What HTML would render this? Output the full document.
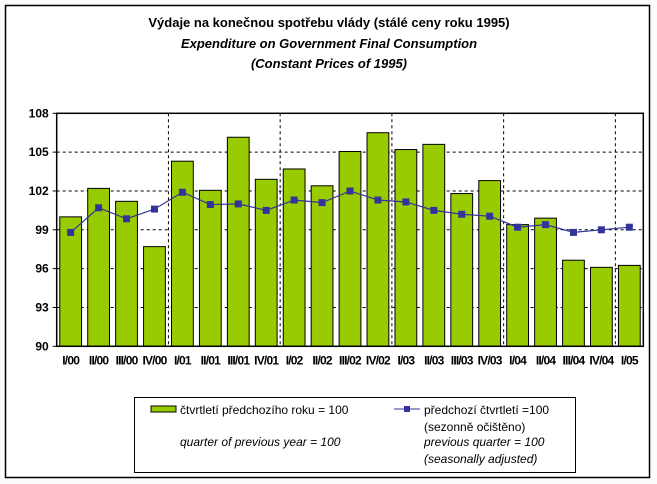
<!DOCTYPE html>
<html><head><meta charset="utf-8"><style>
body{margin:0;background:#fcfbf9;}
svg{display:block;font-family:"Liberation Sans",Arial,sans-serif;}
</style></head><body>
<svg id="c" width="657" height="484">
<rect x="5.5" y="5.5" width="644" height="472" fill="#fff" stroke="#000" stroke-width="1.5"/>
<text x="329" y="27" text-anchor="middle" font-size="13" font-weight="bold">Výdaje na konečnou spotřebu vlády (stálé ceny roku 1995)</text>
<text x="329" y="48" text-anchor="middle" font-size="13" font-weight="bold" font-style="italic">Expenditure on Government Final Consumption</text>
<text x="329" y="68" text-anchor="middle" font-size="13" font-weight="bold" font-style="italic">(Constant Prices of 1995)</text>
<g id="plot"></g>
<g>
<rect x="134.5" y="397.5" width="441" height="75" fill="#fff" stroke="#000"/>
<rect x="151" y="406" width="25" height="6" fill="#99cc00" stroke="#000"/>
<text x="180" y="414" font-size="12">čtvrtletí předchozího roku = 100</text>
<text x="180" y="446" font-size="12" font-style="italic">quarter of previous year = 100</text>
<line x1="394" y1="409" x2="420" y2="409" stroke="#333399"/>
<rect x="404" y="406" width="6" height="6" fill="#333399"/>
<text x="424" y="414" font-size="12">předchozí čtvrtletí =100</text>
<text x="424" y="431" font-size="12">(sezonně očištěno)</text>
<text x="424" y="446" font-size="12" font-style="italic">previous quarter = 100</text>
<text x="424" y="463" font-size="12" font-style="italic">(seasonally adjusted)</text>
</g>
</svg>
<script>
const categories=["I/00","II/00","III/00","IV/00","I/01","II/01","III/01","IV/01","I/02","II/02","III/02","IV/02","I/03","II/03","III/03","IV/03","I/04","II/04","III/04","IV/04","I/05"];
const yoyValues=[100.0,102.2,101.2,97.7,104.3,102.05,106.15,102.9,103.7,102.4,105.05,106.5,105.2,105.6,101.8,102.8,99.4,99.9,96.65,96.1,96.25];
const qoqValues=[98.8,100.7,99.85,100.6,101.9,100.95,101.0,100.5,101.3,101.1,102.0,101.3,101.15,100.5,100.2,100.05,99.2,99.4,98.8,99.0,99.2];
const yTicks=[90,93,96,99,102,105,108];
const NS="http://www.w3.org/2000/svg";
const L=56.7,R=643.3,T=113.3,B=346.3,yMin=90,yMax=108;
const bw=(R-L)/categories.length;
const x=i=>L+bw*(i+0.5);
const y=v=>B-(v-yMin)/(yMax-yMin)*(B-T);
const g=document.getElementById('plot');
function mk(t,a){const e=document.createElementNS(NS,t);for(const k in a)e.setAttribute(k,a[k]);g.appendChild(e);return e;}
// horizontal grid
yTicks.forEach(v=>{
 if(v!==yMin&&v!==yMax){const l=mk('line',{x1:L,x2:R,y1:y(v),y2:y(v),stroke:'#000','stroke-dasharray':'3,3'});
 
 }
 const tk=mk('line',{x1:L-4,x2:L,y1:y(v),y2:y(v),stroke:'#000'});
 
 
 const t=mk('text',{x:L-8,y:y(v)+4,'text-anchor':'end','font-size':'12','font-weight':'bold'});
 t.textContent=v;
 
 
});
// vertical year separators
categories.forEach((c,i)=>{
 if(i>0&&i%4===0){const xx=L+bw*i;const l=mk('line',{x1:xx,x2:xx,y1:T,y2:B,stroke:'#000','stroke-dasharray':'3,3'});
 
 }
});
// bars
yoyValues.forEach((v,i)=>{
 const w=bw*0.78;
 const r=mk('rect',{x:x(i)-w/2,y:y(v),width:w,height:B-y(v),fill:'#99cc00',stroke:'#000','stroke-width':'1'});
 
 
});
// axes
const ax=mk('rect',{x:L,y:T,width:R-L,height:B-T,fill:'none',stroke:'#000','stroke-width':'1.5'});


// line
const pts=qoqValues.map((v,i)=>x(i)+','+y(v)).join(' ');
const pl=mk('polyline',{points:pts,fill:'none',stroke:'#333399','stroke-width':'1.2'});


qoqValues.forEach((v,i)=>{
 const m=mk('rect',{x:x(i)-3.5,y:y(v)-3.5,width:7,height:7,fill:'#333399'});
 
 
});
// x labels
categories.forEach((c,i)=>{
 const t=mk('text',{x:x(i),y:B+18,'text-anchor':'middle','font-size':'12','font-weight':'bold','letter-spacing':'-0.8'});
 t.textContent=c;
 
 
});
</script>
</body></html>
